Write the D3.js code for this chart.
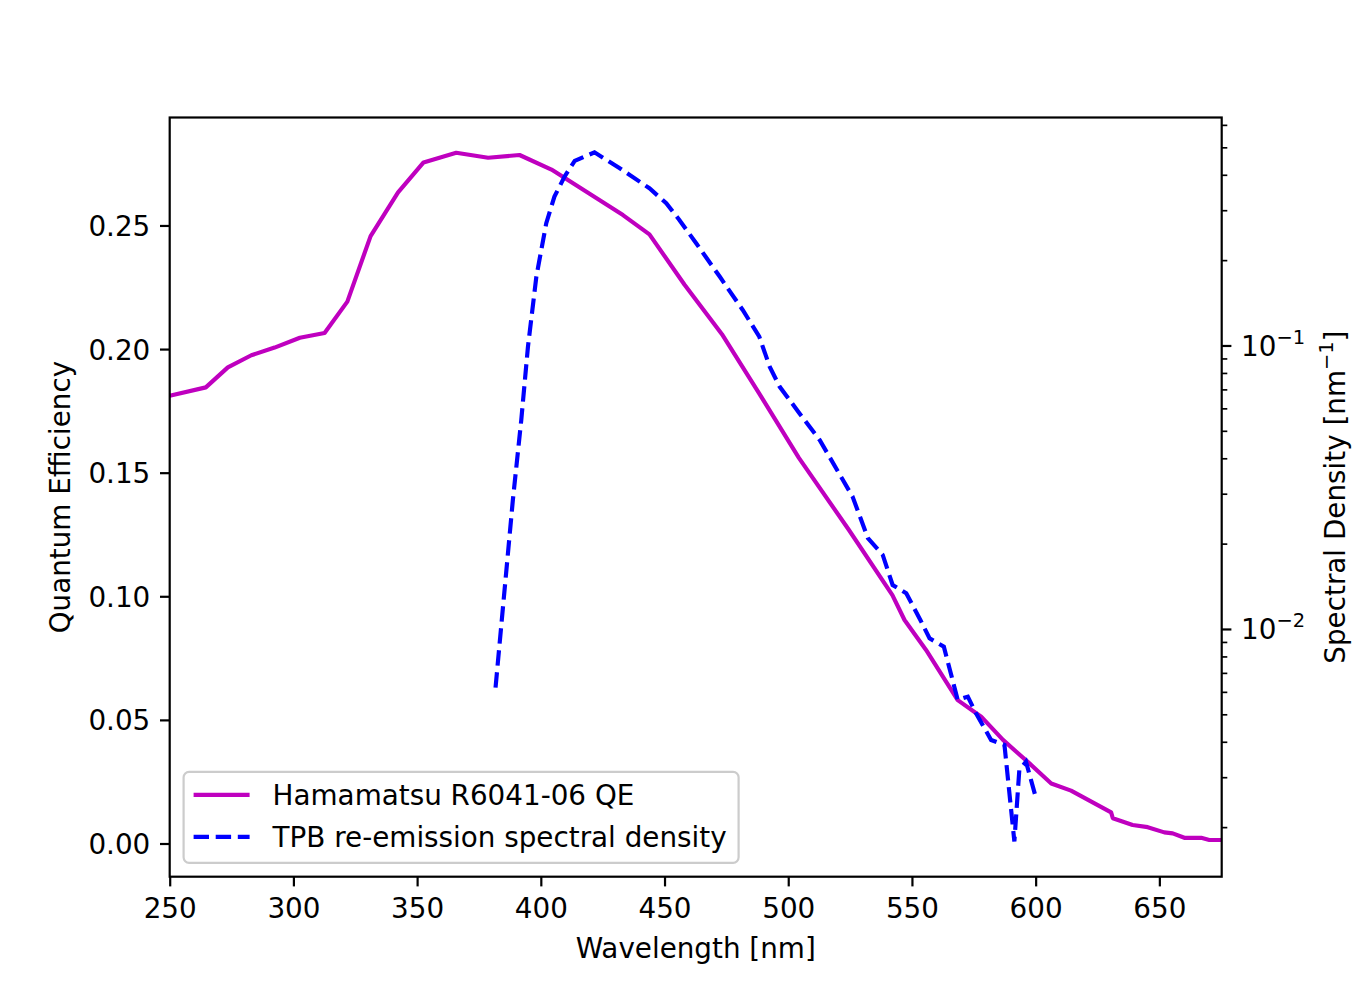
<!DOCTYPE html>
<html>
<head>
<meta charset="utf-8">
<script src="https://cdn.jsdelivr.net/npm/d3@7"></script>
<style>
  body { margin: 0; background: #fff; }
  text { font-family: "DejaVu Sans", sans-serif; fill: #000; }
</style>
</head>
<body>
<script>
// Hamamatsu R6041-06 quantum efficiency
var qeWavelength = [250, 264.6, 273.5, 283.0, 292.4, 302.6, 312.6, 321.8, 331.2, 342.3, 352.6, 365.8, 378.7, 391.4, 404.3, 433.2, 443.9, 458.1, 473.2, 488.3, 504.3, 524.4, 542.1, 547.0, 555.7, 568.5, 578.0, 586.8, 597.5, 606.3, 614.3, 630.5, 631.2, 639.2, 645.3, 652.0, 655.4, 660.1, 666.9, 670.2, 675.0];
var qeValues = [0.1811, 0.1845, 0.1926, 0.1975, 0.2006, 0.2046, 0.2065, 0.2192, 0.2457, 0.2634, 0.2755, 0.2794, 0.2774, 0.2785, 0.2726, 0.2542, 0.2464, 0.226, 0.206, 0.182, 0.156, 0.127, 0.1005, 0.0904, 0.0783, 0.058, 0.0513, 0.0419, 0.0324, 0.0243, 0.0214, 0.0126, 0.0102, 0.0075, 0.0066, 0.0045, 0.0041, 0.0023, 0.0023, 0.0014, 0.0014];

// TPB re-emission spectral density [nm^-1]
var tpbWavelength = [381.7, 388.7, 392.1, 394.8, 398.2, 402.2, 405.5, 409.6, 413.7, 421.7, 431.9, 443.9, 450.7, 456.0, 462.8, 472.3, 481.6, 488.3, 492.5, 496.5, 504.5, 512.7, 526.0, 532.2, 538.2, 542.2, 547.7, 553.4, 557.1, 562.9, 568.5, 572.6, 575.9, 582.0, 587.4, 591.4, 593.4, 596.1, 600.0];
var tpbValues = [0.00621, 0.0285, 0.0546, 0.099, 0.175, 0.270, 0.335, 0.394, 0.448, 0.480, 0.422, 0.3585, 0.3174, 0.277, 0.2293, 0.175, 0.1334, 0.1074, 0.0842, 0.0716, 0.0577, 0.0464, 0.0293, 0.0209, 0.01824, 0.01429, 0.01336, 0.01076, 0.00927, 0.00866, 0.00562, 0.00577, 0.00504, 0.00406, 0.0039, 0.00178, 0.00318, 0.0034, 0.00256];

var xTicks = [250, 300, 350, 400, 450, 500, 550, 600, 650];
var yTicks = [0, 0.05, 0.10, 0.15, 0.20, 0.25];
var rightMajor = [0.01, 0.1];
var rightMinor = [0.002, 0.003, 0.004, 0.005, 0.006, 0.007, 0.008, 0.009,
                  0.02, 0.03, 0.04, 0.05, 0.06, 0.07, 0.08, 0.09,
                  0.2, 0.3, 0.4, 0.5, 0.6];
var seriesNames = ["Hamamatsu R6041-06 QE", "TPB re-emission spectral density"];

var W = 1358, H = 986;
var margin = {left: 169.7, top: 117.5, right: 136.3, bottom: 109.3};
var iw = W - margin.left - margin.right;
var ih = H - margin.top - margin.bottom;
var fs = 27.8; // 10pt at 200 dpi
var tickLen = 9.7, tickPad = 9.7;

var x = d3.scaleLinear().domain([250, 675.2]).range([0, iw]);
var y = d3.scaleLinear().domain([-0.01343, 0.29367]).range([ih, 0]);
var y2 = d3.scaleLog().domain([0.001337, 0.637]).range([ih, 0]);

var svg = d3.select("body")
  .append("svg")
    .attr("width", W)
    .attr("height", H);

var g = svg.append("g")
    .attr("transform", "translate(" + margin.left + "," + margin.top + ")");

g.append("clipPath").attr("id", "clip")
  .append("rect").attr("width", iw).attr("height", ih);

var plot = g.append("g").attr("clip-path", "url(#clip)");

var qeLine = d3.line()
  .x(function(d, i) { return x(qeWavelength[i]); })
  .y(function(d) { return y(d); });

var tpbLine = d3.line()
  .x(function(d, i) { return x(tpbWavelength[i]); })
  .y(function(d) { return y2(d); });

plot.append("path")
    .attr("d", qeLine(qeValues))
    .attr("fill", "none")
    .attr("stroke", "#bf00bf")
    .attr("stroke-width", 4.17)
    .attr("stroke-linejoin", "round");

plot.append("path")
    .attr("d", tpbLine(tpbValues))
    .attr("fill", "none")
    .attr("stroke", "#0000ff")
    .attr("stroke-width", 4.17)
    .attr("stroke-dasharray", "15.4,6.7");

// axes
function styleAxis(sel) {
  sel.select(".domain").remove();
  sel.selectAll("line").attr("stroke", "#000").attr("stroke-width", 2.2);
  sel.selectAll("text").attr("font-size", fs).attr("font-family", "DejaVu Sans");
}

g.append("g")
    .attr("transform", "translate(0," + ih + ")")
    .call(d3.axisBottom(x).tickValues(xTicks).tickFormat(d3.format("d"))
      .tickSize(tickLen).tickPadding(tickPad))
    .call(styleAxis)
    .selectAll("text").attr("dy", "0.8em");

g.append("g")
    .call(d3.axisLeft(y).tickValues(yTicks).tickFormat(d3.format(".2f"))
      .tickSize(tickLen).tickPadding(tickPad))
    .call(styleAxis)
    .selectAll("text").attr("dy", "0.36em");

var right = g.append("g")
    .attr("transform", "translate(" + iw + ",0)")
    .call(d3.axisRight(y2).tickValues(rightMajor).tickFormat("")
      .tickSize(tickLen).tickPadding(tickPad))
    .call(styleAxis);

right.selectAll(".tick").each(function(d) {
  var t = d3.select(this).append("text")
      .attr("x", tickLen + tickPad)
      .attr("dy", "0.36em")
      .attr("text-anchor", "start")
      .attr("font-size", fs);
  t.append("tspan").text("10");
  t.append("tspan").attr("font-size", fs * 0.7).attr("dy", "-0.62em").text("\u2212" + Math.round(-Math.log10(d)));
});

g.append("g")
    .attr("transform", "translate(" + iw + ",0)")
    .call(d3.axisRight(y2).tickValues(rightMinor).tickFormat("").tickSize(5.6))
    .call(function(sel) {
      sel.select(".domain").remove();
      sel.selectAll("line").attr("stroke", "#000").attr("stroke-width", 1.67);
    });

// frame
g.append("rect")
    .attr("width", iw)
    .attr("height", ih)
    .attr("fill", "none")
    .attr("stroke", "#000")
    .attr("stroke-width", 2.2);

// axis labels
g.append("text")
    .attr("x", iw / 2)
    .attr("y", ih + 81)
    .attr("text-anchor", "middle")
    .attr("font-size", fs)
    .text("Wavelength [nm]");

g.append("text")
    .attr("transform", "translate(-100," + ih / 2 + ") rotate(-90)")
    .attr("text-anchor", "middle")
    .attr("font-size", fs)
    .text("Quantum Efficiency");

var r = g.append("text")
    .attr("transform", "translate(" + (iw + 123) + "," + ih / 2 + ") rotate(-90)")
    .attr("text-anchor", "middle")
    .attr("font-size", fs);
r.append("tspan").text("Spectral Density [nm");
r.append("tspan").attr("font-size", fs * 0.7).attr("dy", "-0.62em").text("\u22121");
r.append("tspan").attr("dy", "0.434em").text("]");

// legend
var lg = g.append("g").attr("transform", "translate(13.9," + (ih - 13.9 - 91) + ")");
lg.append("rect")
    .attr("width", 555)
    .attr("height", 91)
    .attr("rx", 5.5)
    .attr("fill", "#fff")
    .attr("fill-opacity", 0.8)
    .attr("stroke", "#cccccc")
    .attr("stroke-width", 2.2);

var styles = [{c: "#bf00bf", dash: null}, {c: "#0000ff", dash: "15.4,6.7"}];
seriesNames.forEach(function(name, i) {
  var yy = 23 + i * 42;
  lg.append("line")
      .attr("x1", 10).attr("x2", 66)
      .attr("y1", yy).attr("y2", yy)
      .attr("stroke", styles[i].c)
      .attr("stroke-width", 4.17)
      .attr("stroke-dasharray", styles[i].dash);
  lg.append("text")
      .attr("x", 89)
      .attr("y", yy)
      .attr("dy", "0.36em")
      .attr("font-size", fs)
      .text(name);
});
</script>
</body>
</html>
